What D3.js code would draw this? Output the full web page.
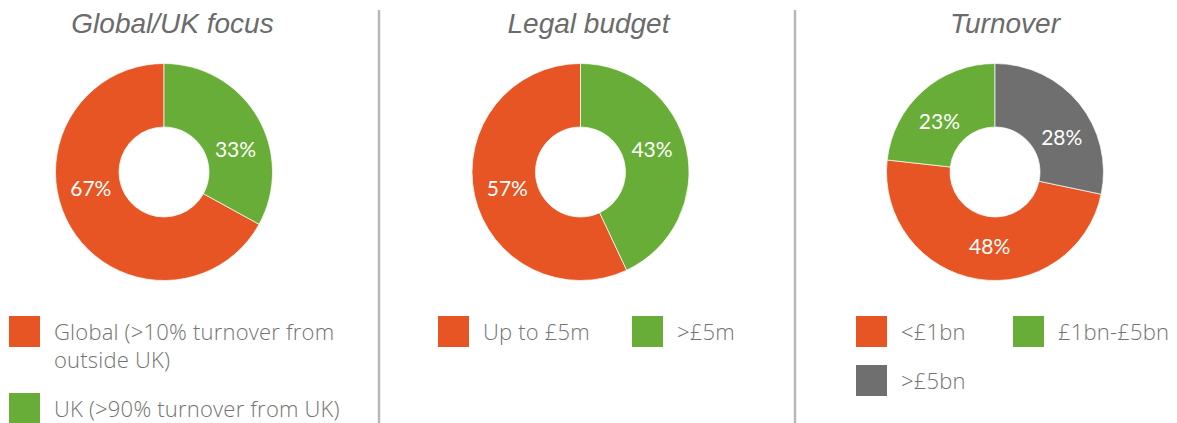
<!DOCTYPE html>
<html>
<head>
<meta charset="utf-8">
<script src="https://cdn.jsdelivr.net/npm/d3@7"></script>
<style>
  html, body { margin: 0; padding: 0; background: #ffffff; }
  svg { display: block; }
</style>
</head>
<body>
<svg id="chart" width="1177" height="423"></svg>
<script>
// Survey breakdowns, one doughnut per panel
const focusCategories = ["Global (>10% turnover from outside UK)", "UK (>90% turnover from UK)"];
const focusValues = [67, 33];

const budgetCategories = ["Up to £5m", ">£5m"];
const budgetValues = [57, 43];

const turnoverCategories = ["<£1bn", "£1bn-£5bn", ">£5bn"];
const turnoverValues = [48, 23, 28];

const panelTitles = ["Global/UK focus", "Legal budget", "Turnover"];

// Palette per category (same order as categories)
const focusColors = ["#E75524", "#68AD38"];
const budgetColors = ["#E75524", "#68AD38"];
const turnoverColors = ["#E75524", "#68AD38", "#6F6F6F"];

// Small angular nudges (degrees) for the in-slice percentage labels
const focusLabelNudge = [18, 13];
const budgetLabelNudge = [0, -5];
const turnoverLabelNudge = [-5, -6, 12];

const svg = d3.select("#chart");

const panels = [
  { title: panelTitles[0], cats: focusCategories, vals: focusValues, colors: focusColors, nudge: focusLabelNudge,
    cx: 164, titleX: 172.5, legend: { rows: [[0], [1]], x0: 9, colW: 0, wrap: true } },
  { title: panelTitles[1], cats: budgetCategories, vals: budgetValues, colors: budgetColors, nudge: budgetLabelNudge,
    cx: 580.5, titleX: 588.5, legend: { rows: [[0, 1]], x0: 438, colW: 194 } },
  { title: panelTitles[2], cats: turnoverCategories, vals: turnoverValues, colors: turnoverColors, nudge: turnoverLabelNudge,
    cx: 995, titleX: 1005, legend: { rows: [[0, 1], [2]], x0: 856, colW: 157 } }
];

const cy = 172, outerR = 108.5, innerR = 45, labelR = 75;
const arc = d3.arc().innerRadius(innerR).outerRadius(outerR);

panels.forEach(p => {
  const total = d3.sum(p.vals);
  // The last category starts at 12 o'clock; the rest follow clockwise.
  const a0 = (p.vals[p.vals.length - 1] / total) * 2 * Math.PI;
  const pie = d3.pie().sort(null).value(d => d).startAngle(a0).endAngle(a0 + 2 * Math.PI);
  const arcs = pie(p.vals);

  const g = svg.append("g").attr("transform", `translate(${p.cx},${cy})`);
  g.selectAll("path").data(arcs).join("path")
    .attr("d", arc)
    .attr("fill", (d, i) => p.colors[i])
    .attr("stroke", "#ffffff")
    .attr("stroke-width", 0.7);

  g.selectAll("text").data(arcs).join("text")
    .attr("transform", (d, i) => {
      const a = (d.startAngle + d.endAngle) / 2 + p.nudge[i] * Math.PI / 180;
      return `translate(${labelR * Math.sin(a)},${-labelR * Math.cos(a)})`;
    })
    .attr("text-anchor", "middle")
    .attr("dy", "0.36em")
    .attr("fill", "#ffffff")
    .style("font-family", "Lato, sans-serif")
    .style("font-size", "21px")
    .text(d => Math.round(d.data) + "%");

  svg.append("text")
    .attr("x", p.titleX).attr("y", 33)
    .attr("text-anchor", "middle")
    .attr("fill", "#6B6B6B")
    .style("font-family", "'Liberation Sans', Arial, sans-serif")
    .style("font-style", "italic")
    .style("font-size", "28px")
    .text(p.title);

  // Legend
  const lg = svg.append("g");
  p.legend.rows.forEach((row, r) => {
    row.forEach((idx, c) => {
      const x = p.legend.x0 + c * p.legend.colW;
      const y = r === 0 ? 316 : (p.legend.wrap ? 393 : 365);
      lg.append("rect").attr("x", x).attr("y", y).attr("width", 31).attr("height", 31)
        .attr("fill", p.colors[idx]);
      const t = lg.append("text")
        .attr("x", x + 45).attr("y", y + 24)
        .attr("fill", "#737373")
        .style("font-family", "'Open Sans', sans-serif")
        .style("font-weight", 300)
        .style("font-size", "22px")
        .style("letter-spacing", "0.2px");
      const label = p.cats[idx];
      if (p.legend.wrap && idx === 0) {
        const parts = ["Global (>10% turnover from", "outside UK)"];
        parts.forEach((s, k) => t.append("tspan").attr("x", x + 45).attr("dy", k === 0 ? 0 : 28).text(s));
      } else {
        t.text(label);
      }
    });
  });
});

// Panel dividers
[379, 795].forEach(x => {
  svg.append("line").attr("x1", x).attr("x2", x).attr("y1", 10).attr("y2", 423)
    .attr("stroke", "#B8B8B8").attr("stroke-width", 2.5);
});
</script>
</body>
</html>
